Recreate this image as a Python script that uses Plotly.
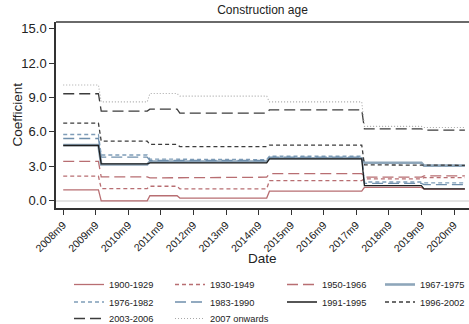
import plotly.graph_objects as go

# Periods over which the estimated coefficients stay constant (first and last month)
seg_start = ["2008-09", "2009-11", "2011-05", "2012-04", "2015-01", "2017-12", "2019-10"]
seg_end = ["2009-10", "2011-04", "2012-03", "2014-12", "2017-11", "2019-09", "2021-01"]

# Coefficient per construction-age band, one value per period
c_1900_1929 = [0.93, -0.03, 0.42, 0.22, 0.82, 1.15, 1.00]
c_1930_1949 = [2.13, 1.05, 1.25, 1.02, 1.75, 1.90, 2.00]
c_1950_1966 = [3.42, 2.07, 1.98, 2.04, 2.36, 2.05, 2.15]
c_1967_1975 = [4.85, 3.15, 3.40, 3.42, 3.70, 3.30, 3.05]
c_1976_1982 = [5.77, 3.98, 3.62, 3.58, 3.87, 1.62, 1.55]
c_1983_1990 = [5.42, 3.80, 3.50, 3.50, 3.80, 1.50, 1.40]
c_1991_1995 = [4.81, 3.20, 3.30, 3.30, 3.65, 1.30, 1.02]
c_1996_2002 = [6.77, 5.19, 4.90, 4.72, 4.85, 3.12, 3.08]
c_2003_2006 = [9.33, 7.82, 7.99, 7.64, 7.93, 6.27, 6.15]
c_2007_on = [10.10, 8.62, 9.35, 9.12, 8.62, 6.48, 6.38]

tick_months = ["2008-09", "2009-09", "2010-09", "2011-09", "2012-09", "2013-09", "2014-09",
               "2015-09", "2016-09", "2017-09", "2018-09", "2019-09", "2020-09"]
tick_labels = ["2008m9", "2009m9", "2010m9", "2011m9", "2012m9", "2013m9", "2014m9",
               "2015m9", "2016m9", "2017m9", "2018m9", "2019m9", "2020m9"]

rose = "#b86e72"
sky = "#8ea6ba"
steel = "#6f8fac"
dark = "#1e1e1e"
grey = "#3c3c3c"
light = "#a8a8a8"

# name, values, colour, dash, width
series = [
    ("1900-1929", c_1900_1929, rose, "solid", 1.3),
    ("1930-1949", c_1930_1949, rose, "4px,3px", 1.3),
    ("1950-1966", c_1950_1966, rose, "11px,5px", 1.3),
    ("1967-1975", c_1967_1975, sky, "solid", 2.6),
    ("1976-1982", c_1976_1982, "#7f9db8", "4px,3px", 1.3),
    ("1983-1990", c_1983_1990, steel, "11px,5px", 1.3),
    ("1991-1995", c_1991_1995, dark, "solid", 1.3),
    ("1996-2002", c_1996_2002, grey, "4px,3px", 1.3),
    ("2003-2006", c_2003_2006, grey, "11px,5px", 1.3),
    ("2007 onwards", c_2007_on, light, "1px,2px", 1.1),
]

# Page geometry (pixels) and the 4-column legend grid below the plot
W, H = 469, 324
M_L, M_R, M_T, M_B = 56, 0, 22, 116
plot_w = W - M_L - M_R
plot_h = H - M_T - M_B
legend_col_left = [69, 170, 282, 380]
legend_row_mid = [284.5, 302, 318.5]

# Each period becomes a flat segment from its first to its last month
xs = []
for a, b in zip(seg_start, seg_end):
    xs += [a + "-01", b + "-01"]

font = "Liberation Sans, Arial, sans-serif"
fig = go.Figure()
legends = {}
for i, (name, vals, col, dash, w) in enumerate(series):
    ys = []
    for v in vals:
        ys += [v, v]
    lid = "legend" if i == 0 else f"legend{i + 1}"
    fig.add_trace(go.Scatter(x=xs, y=ys, mode="lines", name=name, legend=lid,
                             line=dict(color=col, dash=dash, width=w)))
    row, colm = divmod(i, 4)
    top_px = legend_row_mid[row] - 14.5
    legends[lid] = dict(
        orientation="v", xanchor="left", yanchor="top",
        x=(legend_col_left[colm] - M_L) / plot_w,
        y=(M_T + plot_h - top_px) / plot_h,
        font=dict(size=9.3, color="#222222"), bgcolor="rgba(0,0,0,0)")

fig.update_layout(
    width=W, height=H,
    margin=dict(l=M_L, r=M_R, t=M_T, b=M_B, autoexpand=False),
    paper_bgcolor="white", plot_bgcolor="white",
    font=dict(family=font, color="#222222"),
    title=dict(text="Construction age", x=0.5, xref="paper", y=1 - 10 / H,
               yanchor="middle", font=dict(size=12, color="#222222")),
    showlegend=True,
    xaxis=dict(type="date", range=["2008-06-12", "2021-02-16"],
               tickvals=[m + "-01" for m in tick_months], ticktext=tick_labels,
               tickangle=-45, tickfont=dict(size=10.5),
               showline=True, linecolor="#333333", linewidth=1.5,
               ticks="outside", ticklen=5, tickcolor="#333333", tickwidth=1.2,
               showgrid=False, zeroline=False),
    yaxis=dict(range=[-0.65, 15.6], tickvals=[0, 3, 6, 9, 12, 15], tickformat=".1f",
               tickfont=dict(size=13),
               showline=True, linecolor="#333333", linewidth=1.5,
               ticks="outside", ticklen=5, tickcolor="#333333", tickwidth=1.2,
               showgrid=False, zeroline=True, zerolinecolor="#e4e4e4", zerolinewidth=2),
    **legends,
)

# Axis titles
fig.add_annotation(text="Date", xref="paper", yref="paper", x=0.5,
                   y=(M_T + plot_h - 258) / plot_h,
                   xanchor="center", yanchor="middle", showarrow=False,
                   font=dict(size=13.5, color="#222222"))
fig.add_annotation(text="Coefficient", xref="paper", yref="paper",
                   x=(16.5 - M_L) / plot_w, y=0.5,
                   xanchor="center", yanchor="middle", textangle=-90, showarrow=False,
                   font=dict(size=13.5, color="#222222"))

# Rule along the top of the plotting region, below the title
fig.add_shape(type="line", xref="paper", yref="paper", x0=0, x1=1, y0=1, y1=1,
              line=dict(color="#6a6a6a", width=2))

fig.write_html("out.html")
